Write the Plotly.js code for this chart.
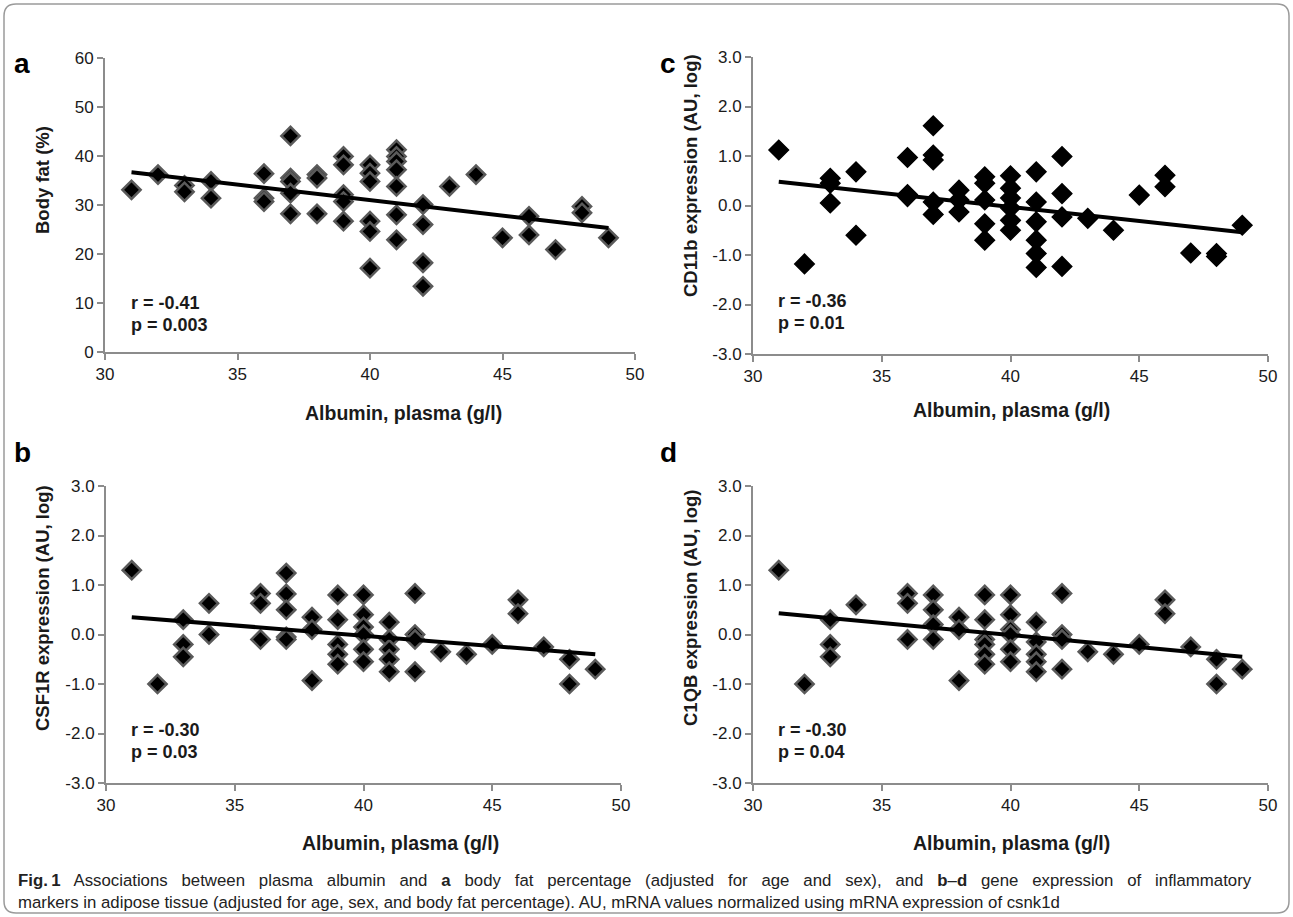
<!DOCTYPE html>
<html>
<head>
<meta charset="utf-8">
<script src="https://cdn.plot.ly/plotly-3.0.1.min.js"></script>
<style>
body{margin:0;padding:0;background:#fff;}
#chart{width:1293px;height:917px;}
g.annotation[data-index="20"] text{word-spacing:9.2px;}
</style>
</head>
<body>
<div id="chart"></div>
<script>
// ---- data ----
var aX = [31,32,33,33,34,34,36,36,36,37,37,37,37,37,38,38,38,39,39,39,39,39,40,40,40,40,40,40,41,41,41,41,41,41,41,42,42,42,42,43,44,45,46,46,47,48,48,49];
var aY = [33.1,36.2,34.0,32.7,34.8,31.4,36.4,31.4,30.7,44.1,35.5,34.8,32.4,28.2,36.2,35.5,28.2,39.9,38.2,32.1,30.7,26.7,38.2,36.5,34.8,26.7,24.6,17.1,41.3,39.9,38.9,37.2,33.8,28.0,22.9,30.1,26.0,18.2,13.4,33.8,36.2,23.3,27.7,23.9,20.9,29.7,28.4,23.3];
var aTrendX = [31,49], aTrendY = [36.7,25.3];

var cX = [31,32,33,33,33,34,34,36,36,36,37,37,37,37,37,38,38,38,39,39,39,39,39,40,40,40,40,40,40,41,41,41,41,41,41,42,42,42,42,43,44,45,46,46,47,48,48,49];
var cY = [1.12,-1.18,0.55,0.45,0.05,0.68,-0.60,0.97,0.22,0.18,1.61,1.02,0.92,0.07,-0.18,0.31,0.11,-0.13,0.58,0.45,0.11,-0.37,-0.70,0.60,0.35,0.15,-0.05,-0.30,-0.50,0.68,0.07,-0.33,-0.70,-0.97,-1.25,0.99,0.24,-0.23,-1.23,-0.26,-0.50,0.21,0.61,0.38,-0.96,-0.97,-1.03,-0.40];
var cTrendX = [31,49], cTrendY = [0.48,-0.54];

var bX = [31,32,33,33,33,34,34,36,36,36,37,37,37,37,37,38,38,38,39,39,39,39,39,40,40,40,40,40,40,41,41,41,41,41,42,42,42,42,43,44,45,46,46,47,48,48,49];
var bY = [1.30,-1.00,0.30,-0.20,-0.45,0.63,0.00,0.83,0.63,-0.10,1.24,0.82,0.50,-0.05,-0.10,0.35,0.10,-0.93,0.80,0.30,-0.20,-0.40,-0.60,0.80,0.40,0.15,0.00,-0.30,-0.55,0.25,-0.10,-0.30,-0.50,-0.75,0.83,0.00,-0.10,-0.75,-0.35,-0.40,-0.20,0.70,0.42,-0.25,-0.50,-1.00,-0.70];
var bTrendX = [31,49], bTrendY = [0.35,-0.40];

var dX = [31,32,33,33,33,34,36,36,36,37,37,37,37,38,38,38,39,39,39,39,39,39,40,40,40,40,40,40,41,41,41,41,41,42,42,42,42,43,44,45,46,46,47,48,48,49];
var dY = [1.30,-1.00,0.30,-0.20,-0.45,0.60,0.83,0.63,-0.10,0.80,0.50,0.20,-0.10,0.35,0.10,-0.93,0.80,0.30,-0.10,-0.20,-0.40,-0.60,0.80,0.40,0.10,0.00,-0.30,-0.55,0.25,-0.15,-0.40,-0.55,-0.75,0.83,0.00,-0.10,-0.70,-0.35,-0.40,-0.20,0.70,0.42,-0.25,-0.50,-1.00,-0.70];
var dTrendX = [31,49], dTrendY = [0.43,-0.45];

var xTicks = [30,35,40,45,50];
var xTickText = ["30","35","40","45","50"];
var aYTicks = [0,10,20,30,40,50,60];
var aYTickText = ["0","10","20","30","40","50","60"];
var logTicks = [-3,-2,-1,0,1,2,3];
var logTickText = ["-3.0","-2.0","-1.0","0.0","1.0","2.0","3.0"];

var xTitle = "Albumin, plasma (g/l)";
var yTitles = ["Body fat (%)", "CD11b expression (AU, log)", "CSF1R expression (AU, log)", "C1QB expression (AU, log)"];
var panelLetters = ["a","c","b","d"];
var rTexts = ["r = -0.41","r = -0.36","r = -0.30","r = -0.30"];
var pTexts = ["p = 0.003","p = 0.01","p = 0.03","p = 0.04"];
var caption1 = "<b>Fig.\u20091</b> Associations between plasma albumin and <b>a</b> body fat percentage (adjusted for age and sex), and <b>b</b>–<b>d</b> gene expression of inflammatory";
var caption2 = "markers in adipose tissue (adjusted for age, sex, and body fat percentage). AU, mRNA values normalized using mRNA expression of csnk1d";

// ---- layout helpers ----
var W = 1293, H = 917;
function px(x){ return x / W; }
function py(y){ return 1 - y / H; }
var FONT = "Liberation Sans, Arial, sans-serif";
var AXC = "#8c8c8c";

var boxes = [
  {x0:105, x1:635, y0:58,  y1:352},   // a
  {x0:753, x1:1268, y0:57, y1:354},   // c
  {x0:106, x1:621, y0:486, y1:783},   // b
  {x0:753, x1:1268, y0:486, y1:783}   // d
];

function xaxisDef(b){
  return {domain:[px(b.x0), px(b.x1)], range:[30,50], tickvals:xTicks, ticktext:xTickText,
    showline:true, linecolor:AXC, linewidth:2, ticks:"outside", ticklen:6, tickwidth:2, tickcolor:AXC,
    showgrid:false, zeroline:false, tickfont:{family:FONT, size:17, color:"#1a1a1a"}, fixedrange:true};
}
function yaxisDef(b, vals, txt, rng){
  return {domain:[py(b.y1), py(b.y0)], range:rng, tickvals:vals, ticktext:txt,
    showline:true, linecolor:AXC, linewidth:2, ticks:"outside", ticklen:6, tickwidth:2, tickcolor:AXC,
    showgrid:false, zeroline:false, tickfont:{family:FONT, size:17, color:"#1a1a1a"}, fixedrange:true};
}

var greyMarker = {symbol:"diamond", size:14, color:"#000", line:{color:"#5a5a5a", width:2.5}};
var blackMarker = {symbol:"diamond", size:15, color:"#000", line:{color:"#000", width:1.5}};

function scatter(x,y,xa,ya,m){ return {type:"scatter", mode:"markers", x:x, y:y, xaxis:xa, yaxis:ya, marker:m, showlegend:false, hoverinfo:"skip", cliponaxis:false}; }
function trend(x,y,xa,ya){ return {type:"scatter", mode:"lines", x:x, y:y, xaxis:xa, yaxis:ya, line:{color:"#000", width:4}, showlegend:false, hoverinfo:"skip"}; }

var data = [
  scatter(aX,aY,"x","y",greyMarker), trend(aTrendX,aTrendY,"x","y"),
  scatter(cX,cY,"x2","y2",blackMarker), trend(cTrendX,cTrendY,"x2","y2"),
  scatter(bX,bY,"x3","y3",greyMarker), trend(bTrendX,bTrendY,"x3","y3"),
  scatter(dX,dY,"x4","y4",greyMarker), trend(dTrendX,dTrendY,"x4","y4")
];

var ann = [];
var xTitlePos = [[403,413],[1011,410],[400,843],[1011,843]];
var yTitlePos = [[42,180],[690,175],[42,608],[690,608]];
var letterPos = [[22,64],[668,64],[22,452],[668,452]];
var rVal = [[31,10.1],[31,-1.92],[31,-1.92],[31,-1.92]];
var pVal = [[31,5.6],[31,-2.37],[31,-2.37],[31,-2.37]];
var axNames = [["x","y"],["x2","y2"],["x3","y3"],["x4","y4"]];
for (var i=0;i<4;i++){
  ann.push({xref:"paper", yref:"paper", x:px(xTitlePos[i][0]), y:py(xTitlePos[i][1]), text:"<b>"+xTitle+"</b>", showarrow:false, xanchor:"center", yanchor:"middle", font:{family:FONT, size:19.5, color:"#1a1a1a"}});
  ann.push({xref:"paper", yref:"paper", x:px(yTitlePos[i][0]), y:py(yTitlePos[i][1]), text:"<b>"+yTitles[i]+"</b>", textangle:-90, showarrow:false, xanchor:"center", yanchor:"middle", font:{family:FONT, size:18.5, color:"#1a1a1a"}});
  ann.push({xref:"paper", yref:"paper", x:px(letterPos[i][0]), y:py(letterPos[i][1]), text:"<b>"+panelLetters[i]+"</b>", showarrow:false, xanchor:"center", yanchor:"middle", font:{family:FONT, size:28, color:"#000"}});
  ann.push({xref:axNames[i][0], yref:axNames[i][1], x:rVal[i][0], y:rVal[i][1], text:"<b>"+rTexts[i]+"</b>", showarrow:false, xanchor:"left", yanchor:"middle", xshift:-3, font:{family:FONT, size:18, color:"#1a1a1a"}});
  ann.push({xref:axNames[i][0], yref:axNames[i][1], x:pVal[i][0], y:pVal[i][1], text:"<b>"+pTexts[i]+"</b>", showarrow:false, xanchor:"left", yanchor:"middle", xshift:-3, font:{family:FONT, size:18, color:"#1a1a1a"}});
}
ann.push({xref:"paper", yref:"paper", x:px(16), y:py(880), text:caption1, showarrow:false, xanchor:"left", yanchor:"middle", align:"left", font:{family:FONT, size:16.8, color:"#222"}});
ann.push({xref:"paper", yref:"paper", x:px(16), y:py(902), text:caption2, showarrow:false, xanchor:"left", yanchor:"middle", align:"left", font:{family:FONT, size:16.8, color:"#222"}});

// rounded frame
var fx0=px(4), fx1=px(1289), fyT=py(4), fyB=py(913), rx=px(12), ry=12/H;
var framePath = "M"+(fx0+rx)+","+fyT+" L"+(fx1-rx)+","+fyT+" Q"+fx1+","+fyT+" "+fx1+","+(fyT-ry)+
  " L"+fx1+","+(fyB+ry)+" Q"+fx1+","+fyB+" "+(fx1-rx)+","+fyB+
  " L"+(fx0+rx)+","+fyB+" Q"+fx0+","+fyB+" "+fx0+","+(fyB+ry)+
  " L"+fx0+","+(fyT-ry)+" Q"+fx0+","+fyT+" "+(fx0+rx)+","+fyT+" Z";

var layout = {
  width:W, height:H, margin:{l:0,r:0,t:0,b:0}, autosize:false,
  paper_bgcolor:"#fff", plot_bgcolor:"rgba(0,0,0,0)", showlegend:false,
  xaxis: Object.assign(xaxisDef(boxes[0]), {anchor:"y"}), yaxis: Object.assign(yaxisDef(boxes[0], aYTicks, aYTickText, [0,60]), {anchor:"x"}),
  xaxis2: Object.assign(xaxisDef(boxes[1]), {anchor:"y2"}), yaxis2: Object.assign(yaxisDef(boxes[1], logTicks, logTickText, [-3,3]), {anchor:"x2"}),
  xaxis3: Object.assign(xaxisDef(boxes[2]), {anchor:"y3"}), yaxis3: Object.assign(yaxisDef(boxes[2], logTicks, logTickText, [-3,3]), {anchor:"x3"}),
  xaxis4: Object.assign(xaxisDef(boxes[3]), {anchor:"y4"}), yaxis4: Object.assign(yaxisDef(boxes[3], logTicks, logTickText, [-3,3]), {anchor:"x4"}),
  annotations: ann,
  shapes: [{type:"path", xref:"paper", yref:"paper", path:framePath, line:{color:"#9a9a9a", width:1.5}, fillcolor:"rgba(0,0,0,0)"}]
};

Plotly.newPlot("chart", data, layout, {staticPlot:true, displayModeBar:false});
</script>
</body>
</html>
